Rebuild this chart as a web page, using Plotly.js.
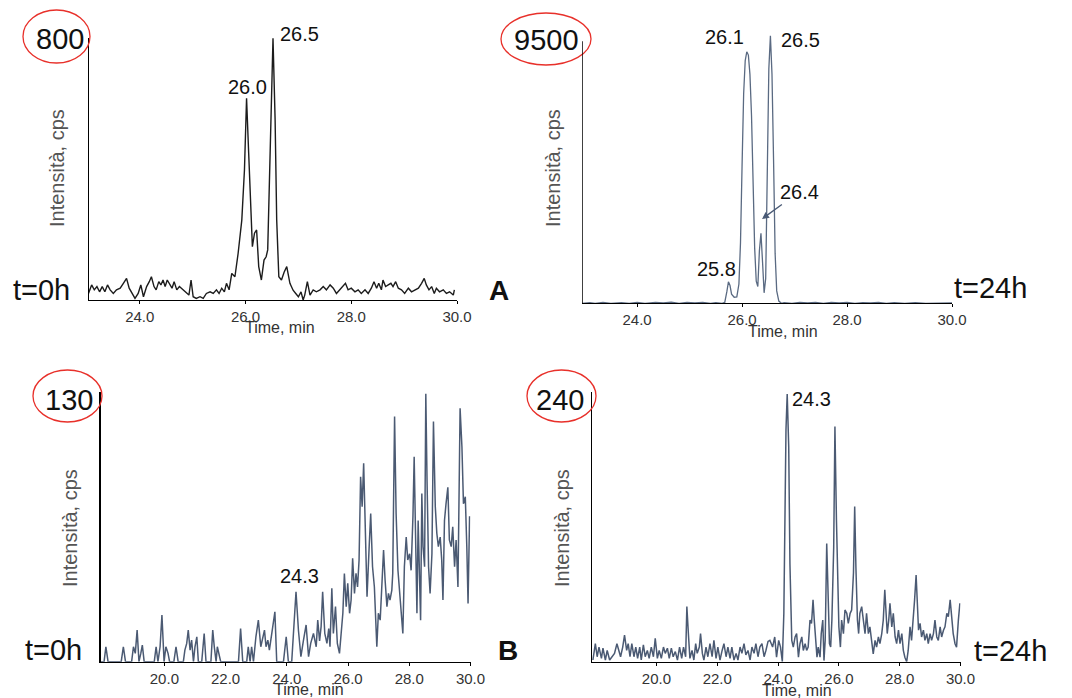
<!DOCTYPE html>
<html><head><meta charset="utf-8">
<script src="https://cdn.plot.ly/plotly-3.0.1.min.js"></script>
<style>html,body{margin:0;padding:0;background:#fff}#chart{width:1072px;height:698px}</style>
</head><body><div id="chart"></div>
<script>
// ---- data: [time (min), intensity (cps)] ----
const ticksTop = [24, 26, 28, 30];
const ticksTopText = ['24.0', '26.0', '28.0', '30.0'];
const ticksBottom = [20, 22, 24, 26, 28, 30];
const ticksBottomText = ['20.0', '22.0', '24.0', '26.0', '28.0', '30.0'];
const scaleLabels = ['800', '9500', '130', '240'];

const chromA_t0 = [[23.03,20],[23.09,46],[23.14,31],[23.19,41],[23.24,25],[23.29,41],[23.34,25],[23.39,46],[23.44,31],[23.50,20],[23.56,31],[23.63,36],[23.69,51],[23.75,66],[23.80,36],[23.85,20],[23.91,5],[23.97,20],[24.02,46],[24.07,10],[24.13,41],[24.18,56],[24.22,71],[24.27,41],[24.31,31],[24.36,56],[24.40,46],[24.44,61],[24.48,41],[24.52,61],[24.56,51],[24.61,36],[24.65,56],[24.70,31],[24.75,41],[24.82,31],[24.89,20],[24.93,15],[24.97,61],[25.01,10],[25.07,5],[25.14,10],[25.20,5],[25.26,20],[25.33,25],[25.39,20],[25.45,31],[25.50,20],[25.55,36],[25.60,25],[25.64,51],[25.69,31],[25.74,81],[25.80,71],[25.86,142],[25.93,244],[25.98,397],[26.02,616],[26.06,448],[26.10,295],[26.13,163],[26.17,204],[26.21,214],[26.25,102],[26.30,61],[26.35,122],[26.39,132],[26.42,153],[26.46,397],[26.50,702],[26.52,799],[26.56,550],[26.59,244],[26.63,71],[26.68,61],[26.73,85],[26.78,102],[26.84,51],[26.90,30],[26.95,20],[27.00,10],[27.05,25],[27.09,0],[27.12,15],[27.17,56],[27.22,15],[27.28,31],[27.34,25],[27.41,31],[27.47,41],[27.53,31],[27.60,46],[27.66,36],[27.72,20],[27.78,31],[27.85,41],[27.89,51],[27.94,31],[28.00,36],[28.07,25],[28.13,31],[28.19,20],[28.26,31],[28.32,20],[28.38,36],[28.43,56],[28.48,36],[28.52,51],[28.57,31],[28.60,61],[28.65,41],[28.70,46],[28.75,51],[28.79,41],[28.84,56],[28.89,36],[28.95,31],[29.01,20],[29.08,36],[29.14,25],[29.20,31],[29.27,36],[29.33,51],[29.38,66],[29.42,46],[29.47,31],[29.52,41],[29.57,20],[29.61,36],[29.67,25],[29.74,31],[29.80,20],[29.86,25],[29.93,15],[29.95,31]];

const chromA_t24 = [[22.95,0],[23.1,20],[23.2,0],[23.35,30],[23.5,0],[23.7,25],[23.85,0],[24.0,35],[24.15,0],[24.35,30],[24.5,10],[24.65,40],[24.8,0],[24.95,30],[25.1,10],[25.25,35],[25.4,0],[25.5,25],[25.62,0],[25.67,30],[25.71,420],[25.74,780],[25.77,650],[25.80,330],[25.85,220],[25.90,230],[25.94,700],[25.97,2200],[26.00,5000],[26.03,7600],[26.06,8800],[26.09,9120],[26.12,9000],[26.15,8300],[26.18,6800],[26.21,4400],[26.24,2000],[26.27,800],[26.30,610],[26.33,1900],[26.36,2540],[26.39,1500],[26.42,380],[26.45,900],[26.48,4500],[26.51,8500],[26.54,9700],[26.57,8300],[26.60,5200],[26.63,1800],[26.66,450],[26.70,80],[26.75,0],[26.8,20],[26.95,0],[27.1,30],[27.25,10],[27.4,35],[27.55,0],[27.7,30],[27.85,15],[28.0,35],[28.15,0],[28.3,25],[28.45,10],[28.6,30],[28.75,0],[28.9,20],[29.1,0],[29.3,20],[29.5,0],[29.7,15],[29.85,0],[30.0,10]];

const chromB_t0 = [[17.90,0],[18.03,0],[18.09,7.2],[18.16,0],[18.59,0],[18.66,7.2],[18.73,0],[18.93,0],[18.99,7.2],[19.05,4],[19.11,15.2],[19.17,0],[19.23,4],[19.28,8],[19.34,0],[19.67,0],[19.73,7.2],[19.79,0],[19.86,7.2],[19.92,22.5],[19.99,0],[20.05,7.2],[20.12,4],[20.17,0],[20.31,0],[20.38,7.2],[20.45,0],[20.62,0],[20.67,5.6],[20.73,8.8],[20.78,15.2],[20.84,5.6],[20.89,10.4],[20.95,0],[21.00,7.2],[21.06,12],[21.11,0],[21.22,0],[21.30,13.6],[21.36,0],[21.52,0],[21.58,15.2],[21.63,7.2],[21.69,0],[21.73,7.2],[21.79,4],[21.84,0],[22.42,0],[22.49,16],[22.56,0],[22.69,0],[22.74,7.2],[22.80,0],[22.85,7.2],[22.91,0],[22.99,12],[23.07,20],[23.15,7.2],[23.21,12],[23.27,15.2],[23.32,7.2],[23.38,10.4],[23.43,5.6],[23.49,12],[23.54,15.2],[23.61,24],[23.67,0],[23.89,0],[23.98,12],[24.05,0],[24.16,0],[24.30,33.7],[24.38,15],[24.46,2.4],[24.54,10],[24.63,17.7],[24.71,2.4],[24.78,8.8],[24.87,13.6],[24.96,7.2],[25.01,20],[25.07,10],[25.12,16.9],[25.17,33.7],[25.24,13.6],[25.31,8.8],[25.37,16],[25.41,7.2],[25.47,35.3],[25.52,13.6],[25.59,26.5],[25.65,8.8],[25.72,4],[25.78,13.6],[25.83,23.3],[25.88,42.5],[25.94,26.5],[25.99,37.7],[26.05,23.3],[26.10,29.7],[26.15,49.8],[26.21,32.9],[26.26,42.5],[26.31,36],[26.36,49],[26.41,89],[26.46,74.6],[26.51,95.5],[26.57,63.4],[26.62,31.3],[26.69,55.4],[26.74,71.4],[26.80,45.7],[26.86,36],[26.94,7.2],[26.99,23.3],[27.05,20],[27.10,32.9],[27.16,53.8],[27.21,39.3],[27.27,26.5],[27.32,32.9],[27.37,29.7],[27.43,34.5],[27.46,42.5],[27.52,118],[27.57,71.4],[27.63,44],[27.68,32.9],[27.73,25],[27.79,13.6],[27.84,45.7],[27.90,60],[27.95,49],[28.01,52],[28.06,44],[28.12,70],[28.16,98.7],[28.20,68],[28.25,23.3],[28.29,68],[28.33,37.7],[28.37,20],[28.41,81],[28.45,55.4],[28.50,45.7],[28.54,129],[28.58,87.5],[28.63,45.7],[28.68,32.9],[28.74,52],[28.79,115.6],[28.85,74.6],[28.90,61.8],[28.95,55.4],[29.01,60],[29.06,49],[29.10,29.7],[29.15,68],[29.20,76],[29.26,84],[29.31,58.6],[29.37,55.4],[29.42,65],[29.48,45.7],[29.53,58.6],[29.59,36],[29.66,122],[29.72,103.5],[29.77,76],[29.83,79.4],[29.88,55],[29.92,28],[29.97,70]];

const chromB_t24 = [[17.91,1.5],[17.99,16],[18.05,4.4],[18.11,13],[18.19,3],[18.24,12],[18.32,1.5],[18.38,10],[18.46,1.5],[18.54,4.4],[18.62,7.4],[18.70,16],[18.76,10],[18.82,4.4],[18.89,13],[18.95,23.7],[19.02,10],[19.07,16],[19.13,4.4],[19.19,16],[19.26,4.4],[19.32,13],[19.38,3],[19.45,13],[19.50,1.5],[19.57,15],[19.63,4.4],[19.70,10],[19.76,3],[19.83,13],[19.90,4.4],[19.96,20.7],[20.03,3],[20.09,10],[20.16,3],[20.23,13],[20.29,7.4],[20.36,12],[20.42,3],[20.49,12],[20.55,4.4],[20.62,9],[20.69,1.5],[20.76,13],[20.83,3],[20.89,13],[20.96,4.4],[21.00,49],[21.05,25],[21.10,3],[21.17,10],[21.23,1.5],[21.29,16],[21.34,7.4],[21.41,13],[21.45,25],[21.51,7.4],[21.56,1.5],[21.63,13],[21.69,4.4],[21.76,16],[21.83,4.4],[21.89,19],[21.96,3],[22.02,13],[22.09,1.5],[22.16,10],[22.22,16],[22.29,4.4],[22.35,13],[22.42,3],[22.48,13],[22.55,1.5],[22.62,7.4],[22.68,1.5],[22.75,13],[22.81,7.4],[22.88,16],[22.94,6],[23.01,10],[23.08,1.5],[23.14,13],[23.21,7.4],[23.27,16],[23.34,4.4],[23.40,13],[23.47,16],[23.54,4.4],[23.60,10],[23.67,18],[23.73,19],[23.82,13],[23.89,22],[23.95,4],[24.02,19],[24.08,13],[24.14,0],[24.19,43],[24.26,206],[24.30,238],[24.35,191],[24.39,87],[24.45,19],[24.50,13],[24.56,22],[24.61,25],[24.67,4],[24.72,16],[24.78,22],[24.83,10],[24.89,16],[24.94,10],[24.99,13],[25.05,37],[25.10,34],[25.15,55],[25.19,37],[25.24,19],[25.28,4],[25.32,13],[25.38,4],[25.42,25],[25.47,37],[25.51,1],[25.55,19],[25.60,105],[25.64,58],[25.69,16],[25.73,13],[25.77,37],[25.83,102],[25.87,209],[25.92,126],[25.96,58],[26.00,31],[26.05,13],[26.09,37],[26.15,25],[26.20,46],[26.26,43],[26.31,34],[26.37,43],[26.42,46],[26.48,79],[26.52,138],[26.56,84],[26.61,37],[26.65,25],[26.69,43],[26.75,49],[26.80,37],[26.86,25],[26.91,43],[26.97,25],[27.02,31],[27.08,19],[27.13,7],[27.19,19],[27.24,13],[27.30,22],[27.35,16],[27.41,25],[27.46,37],[27.51,64],[27.55,49],[27.59,25],[27.64,37],[27.68,52],[27.74,31],[27.79,43],[27.85,22],[27.90,16],[27.96,28],[28.01,16],[28.07,25],[28.12,10],[28.17,4],[28.23,0],[28.28,10],[28.34,31],[28.39,19],[28.45,37],[28.49,55],[28.54,77],[28.58,43],[28.62,28],[28.67,34],[28.72,22],[28.78,28],[28.83,19],[28.89,25],[28.94,16],[29.00,25],[29.05,19],[29.11,25],[29.16,37],[29.22,22],[29.27,19],[29.33,31],[29.38,22],[29.44,28],[29.49,31],[29.55,43],[29.60,40],[29.66,55],[29.71,37],[29.76,25],[29.82,16],[29.87,13],[29.93,37],[29.98,52]];

// ---- layout helpers ----
const W = 1072, H = 698;
const FONT = 'Liberation Sans, Arial, sans-serif';
const px = v => v / W;
const py = v => 1 - v / H;

function trace(data, xa, ya, color, width) {
  return {x: data.map(p => p[0]), y: data.map(p => p[1]), xaxis: xa, yaxis: ya,
    type: 'scatter', mode: 'lines', line: {color: color, width: width}, hoverinfo: 'skip'};
}
function xAxis(dom, range, vals, text, anchor) {
  return {domain: dom, range: range, anchor: anchor, tickvals: vals, ticktext: text,
    ticks: 'outside', ticklen: 3, tickwidth: 1, tickcolor: '#000', showline: true,
    linecolor: '#000', linewidth: 1, showgrid: false, zeroline: false,
    tickfont: {family: FONT, size: 15, color: '#333'}, fixedrange: true};
}
function yAxis(dom, range, anchor, line) {
  return {domain: dom, range: range, anchor: anchor, showline: line, linecolor: '#000',
    linewidth: 1.5, showticklabels: false, ticks: '', showgrid: false, zeroline: false, fixedrange: true};
}

const data = [
  trace(chromA_t0, 'x', 'y', '#1c1c1c', 1.4),
  trace(chromA_t24, 'x2', 'y2', '#5a6a82', 1.3),
  trace(chromB_t0, 'x3', 'y3', '#4b5a73', 1.5),
  trace(chromB_t24, 'x4', 'y4', '#4b5a73', 1.5)
];

function txt(t, x, y, size, opts) {
  return Object.assign({text: t, x: px(x), y: py(y), xref: 'paper', yref: 'paper',
    xanchor: 'center', yanchor: 'middle', showarrow: false,
    font: {family: FONT, size: size, color: '#111'}}, opts || {});
}
const grey = {family: FONT, size: 20, color: '#555'};
const timeFont = {family: FONT, size: 16, color: '#333'};

const annotations = [
  txt(scaleLabels[0], 60, 39, 29), txt(scaleLabels[1], 546, 40, 29),
  txt(scaleLabels[2], 69, 400, 29), txt(scaleLabels[3], 560, 400, 29),
  txt('t=0h', 41, 290, 29), txt('t=24h', 990, 288, 29),
  txt('t=0h', 53, 650, 29), txt('t=24h', 1010, 651, 29),
  txt('<b>A</b>', 499, 290, 28), txt('<b>B</b>', 508, 650, 28),
  txt('26.0', 247.5, 87, 20), txt('26.5', 299, 34.5, 20),
  txt('26.1', 724, 37, 20), txt('26.5', 800, 40, 20), txt('25.8', 716, 269, 20),
  txt('24.3', 299, 576, 20), txt('24.3', 811.5, 399, 20),
  {text: '26.4', x: px(762), y: py(219), xref: 'paper', yref: 'paper', showarrow: true,
   ax: 37, ay: -27, arrowhead: 2, arrowsize: 1, arrowwidth: 1.4, arrowcolor: '#4a5a75',
   standoff: 0, font: {family: FONT, size: 20, color: '#111'}},
  txt('Time, min', 280, 327, 16, {font: timeFont}),
  txt('Time, min', 783, 331, 16, {font: timeFont}),
  txt('Time, min', 309, 689, 16, {font: timeFont}),
  txt('Time, min', 797, 690, 16, {font: timeFont}),
  txt('Intensità, cps', 57, 168, 20, {font: grey, textangle: -90}),
  txt('Intensità, cps', 553, 168, 20, {font: grey, textangle: -90}),
  txt('Intensità, cps', 70, 528, 20, {font: grey, textangle: -90}),
  txt('Intensità, cps', 562, 528, 20, {font: grey, textangle: -90})
];

function ellipse(x0, y0, x1, y1) {
  return {type: 'circle', xref: 'paper', yref: 'paper', x0: px(x0), x1: px(x1), y0: py(y1), y1: py(y0),
    line: {color: '#e8302a', width: 1.3}};
}
const shapes = [
  ellipse(23, 10, 90, 63), ellipse(501, 13, 591, 65),
  ellipse(33, 370, 102, 422), ellipse(527, 370, 596, 422),
  {type: 'line', xref: 'x2', yref: 'y2', x0: 22.95, x1: 22.95, y0: 0, y1: 9500, line: {color: '#000', width: 1.5}}
];

const layout = {
  width: W, height: H, margin: {l: 0, r: 0, t: 0, b: 0}, showlegend: false,
  paper_bgcolor: '#fff', plot_bgcolor: 'rgba(0,0,0,0)', font: {family: FONT},
  xaxis: xAxis([px(89), px(457)], [23.04, 30.0], ticksTop, ticksTopText, 'y'),
  yaxis: yAxis([py(300), py(38)], [0, 800], 'x', true),
  xaxis2: xAxis([px(582), px(952)], [22.95, 30.0], ticksTop, ticksTopText, 'y2'),
  yaxis2: yAxis([py(303.3), py(33)], [0, 9800], 'x2', false),
  xaxis3: xAxis([px(100.7), px(470.5)], [17.92, 30.0], ticksBottom, ticksBottomText, 'y3'),
  yaxis3: yAxis([py(661.7), py(391.7)], [0, 130], 'x3', true),
  xaxis4: xAxis([px(592), px(960.5)], [17.88, 30.0], ticksBottom, ticksBottomText, 'y4'),
  yaxis4: yAxis([py(661.7), py(391.7)], [0, 240], 'x4', true),
  annotations: annotations, shapes: shapes
};

Plotly.newPlot('chart', data, layout, {displayModeBar: false, staticPlot: true});
</script></body></html>
